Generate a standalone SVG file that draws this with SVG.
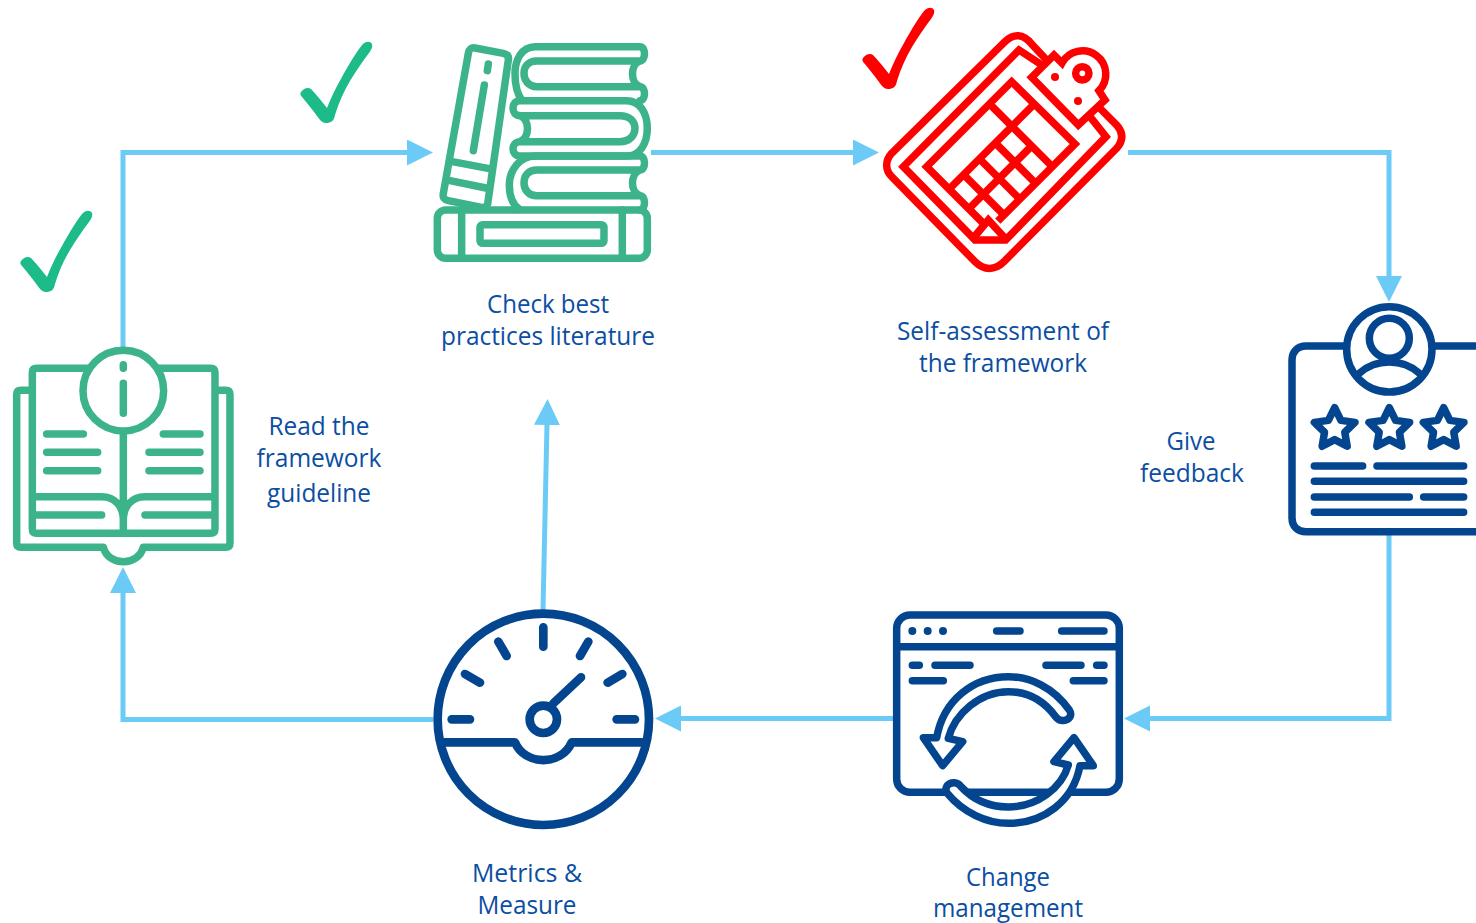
<svg xmlns="http://www.w3.org/2000/svg" xmlns:xlink="http://www.w3.org/1999/xlink" width="1476" height="923" viewBox="0 0 1476 923">
<style>
.icon{fill:none;stroke-width:22.500;stroke-linecap:round;stroke-linejoin:round}
.green{stroke:#3DB38A}.red{stroke:#FF0000}.navy{stroke:#03468F}
.conn{fill:none;stroke:#6CCBF6;stroke-width:5}
.label{font-family:"Open Sans","Liberation Sans",sans-serif;font-size:25px;fill:#0B4EA2;text-anchor:middle}
</style>
<defs>
<marker id="head" markerUnits="userSpaceOnUse" markerWidth="28" markerHeight="28" refX="1" refY="13" orient="auto"><path d="M0 0L26 13L0 26Z" fill="#6CCBF6"/></marker>
<path id="check" d="M3 57C6 53 10 52 13 54C19 60 24 67 29 73C33 63 38 52 44 42C50 31 57 19 64 10C68 6 72 6 74 9C75 12 73 15 71 18C65 26 58 36 52 46C46 56 41 67 37 80C36 86 33 88 28 88C24 88 22 85 19 81C14 74 8 67 4 62C2 60 2 58 3 57Z"/>
<path id="star" d="M0 -64L18.800 -25.900L60.900 -19.800L30.400 9.900L37.600 51.800L0 32L-37.600 51.800L-30.400 9.900L-60.900 -19.800L-18.800 -25.900Z"/>
</defs>
<g id="connectors">
<path class="conn" marker-end="url(#head)" d="M123 347V152.500H408"/>
<path class="conn" marker-end="url(#head)" d="M651 152.500H854"/>
<path class="conn" marker-end="url(#head)" d="M1128 152.500H1389V277"/>
<path class="conn" marker-end="url(#head)" d="M1389 535V718.500H1149"/>
<path class="conn" marker-end="url(#head)" d="M893 718.500H680"/>
<path class="conn" marker-end="url(#head)" d="M433 719.500H123V592"/>
<path class="conn" marker-end="url(#head)" d="M543 610L547 424"/>
</g>
<g id="node-guideline">
<g class="icon green" transform="translate(0 330) scale(.3333)">
<path d="M262 115H110Q97 115 97 128V597Q97 610 110 610H632Q645 610 645 597V128Q645 115 632 115H478M97 500H305C345 500 370 530 370 570M645 500H435C395 500 370 530 370 570M370 312V610M97 555H305M645 555H435"/>
<path d="M87 181H63Q50 181 50 194V639Q50 652 63 652H310C325 710 415 710 430 652H677Q690 652 690 639V194Q690 181 677 181H655"/>
<circle cx="370" cy="182" r="121"/>
<path d="M370 104V115M370 160V250M140 312H250M140 367H293M140 422H293M490 312H600M447 367H600M447 422H600"/>
</g>
<text class="label" x="319" y="435" textLength="101" lengthAdjust="spacingAndGlyphs">Read the</text>
<text class="label" x="319" y="467" textLength="125" lengthAdjust="spacingAndGlyphs">framework</text>
<text class="label" x="319" y="502" textLength="104" lengthAdjust="spacingAndGlyphs">guideline</text>
</g>
<g id="node-literature">
<g class="icon green" transform="translate(420 30) scale(.3333)">
<path d="M165 54L250 70Q268 74 265 90L203 522Q198 535 185 532L85 512Q66 508 70 490L145 70Q148 51 165 54ZM205 102L202 122M193 165L160 362M97 395L208 416M90 452L198 474"/>
<path d="M660 50H345C305 50 285 90 285 130C285 160 290 190 305 210M660 50C678 50 678 93 660 93H350C325 93 312 110 312 130C312 150 325 170 350 170H660C678 170 678 212 660 212M660 93C630 103 630 160 660 170"/>
<path d="M300 212H620C660 212 682 250 682 295C682 340 660 378 620 378H300M300 212C272 212 272 257 300 257H600C630 257 645 275 645 295C645 315 630 335 600 335H300C272 335 272 378 300 378M300 257C330 270 330 320 300 335"/>
<path d="M660 378H345C300 378 268 420 268 465C268 500 280 525 298 538M660 378C678 378 678 420 660 420H350C325 420 312 438 312 458C312 478 325 497 350 497H660C678 497 678 540 660 540M660 420C630 432 630 487 660 497"/>
<rect x="52" y="540" width="630" height="145" rx="25"/>
<path d="M125 540V685M607 540V685"/>
<rect x="180" y="584" width="372" height="56" rx="8"/>
</g>
<text class="label" x="548" y="313" textLength="122" lengthAdjust="spacingAndGlyphs">Check best</text>
<text class="label" x="548" y="345" textLength="214" lengthAdjust="spacingAndGlyphs">practices literature</text>
</g>
<g id="node-assessment">
<g class="icon red" style="stroke-linecap:butt;stroke-linejoin:miter" transform="translate(860 0) scale(.3333)">
<path d="M560 180L515 132C490 100 460 100 435 125L95 460C75 482 75 510 95 530L345 785C372 812 405 812 432 785L770 445C790 422 790 398 770 375L715 320"/>
<path d="M545 195L477 150L130 500L345 720H437L738 410L690 350"/>
<path d="M367.500 667.500L200 500L455 245L645 432L413.500 663.500"/>
<path d="M522.500 312.500L267.500 567.500M395 318L577 500M515 438L326.500 626.500"/>
<path d="M406 429L527 550M358.500 476.500L479.500 597.500M311 524L432 645"/>
<path d="M335 720L385 660L440 720"/>
<path style="fill:#fff" d="M515 232L582 165L606 189A70 70 0 1 1 717 272L735 300L655 375Z"/>
<circle cx="667" cy="220" r="20"/>
</g>
<circle cx="1055" cy="77" r="4" fill="#FF0000"/>
<circle cx="1078" cy="101" r="4" fill="#FF0000"/>
<text class="label" x="1003" y="340" textLength="212" lengthAdjust="spacingAndGlyphs">Self-assessment of</text>
<text class="label" x="1003" y="372" textLength="168" lengthAdjust="spacingAndGlyphs">the framework</text>
</g>
<g id="node-feedback">
<g class="icon navy" transform="translate(1276 295) scale(.3333)">
<path d="M205 153H90C65 153 48 170 48 195V668C48 695 65 710 90 710H640M478 153H640"/>
<circle cx="340" cy="163" r="128"/>
<circle cx="340" cy="130" r="60"/>
<path d="M250 235C300 190 380 190 430 235"/>
<use xlink:href="#star" href="#star" x="176" y="402"/>
<use xlink:href="#star" href="#star" x="340" y="402"/>
<use xlink:href="#star" href="#star" x="503" y="402"/>
<path d="M115 513H260M303 513H563M115 559H563M115 606H400M443 606H563M115 652H563"/>
</g>
<text class="label" x="1191" y="450" textLength="49" lengthAdjust="spacingAndGlyphs">Give</text>
<text class="label" x="1192" y="482" textLength="104" lengthAdjust="spacingAndGlyphs">feedback</text>
</g>
<g id="node-change">
<g class="icon navy" transform="translate(880 600) scale(.3333)">
<rect x="50" y="45" width="668" height="532" rx="40"/>
<path d="M50 140H718M350 93H420M545 93H672M97 196H118M165 196H270M498 196H603M650 196H672M97 242H190M580 242H672"/>
<circle cx="97" cy="93" r="12" fill="#03468F" stroke="none"/><circle cx="143" cy="93" r="12" fill="#03468F" stroke="none"/><circle cx="189" cy="93" r="12" fill="#03468F" stroke="none"/>
<g id="arrow-pair" style="fill:#fff">
<path d="M568 330C520 262 450 230 385 230C280 230 190 300 170 413H130L188 497L248 425L205 415C225 340 300 275 385 275C440 275 490 300 527 350C545 375 585 355 568 330Z"/>
<path transform="rotate(180 385 455)" d="M568 330C520 272 450 240 385 240C280 240 190 305 170 413H130L188 497L248 425L205 415C225 345 300 289 385 289C440 289 490 310 527 350C545 375 585 355 568 330Z"/>
</g>
</g>
<text class="label" x="1008" y="886" textLength="84" lengthAdjust="spacingAndGlyphs">Change</text>
<text class="label" x="1008" y="917" textLength="150" lengthAdjust="spacingAndGlyphs">management</text>
</g>
<g id="node-metrics">
<g class="icon navy" style="stroke-width:26" transform="translate(425 600) scale(.3333)">
<circle cx="355" cy="358" r="317"/>
<circle cx="355" cy="358" r="41"/>
<path d="M355 82V140M220 125L245 168M120 222L165 248M80 358H135M575 358H630M548 248L592 222M465 168L490 125M385 310L468 232"/>
<path d="M50 427H270C300 498 410 498 440 427H660"/>
</g>
<text class="label" x="527" y="882" textLength="110" lengthAdjust="spacingAndGlyphs">Metrics &amp;</text>
<text class="label" x="527" y="914" textLength="99" lengthAdjust="spacingAndGlyphs">Measure</text>
</g>
<g id="checks">
<use href="#check" xlink:href="#check" x="18" y="204" fill="#1DBB8A"/>
<use href="#check" xlink:href="#check" x="298" y="35" fill="#1DBB8A"/>
<use href="#check" xlink:href="#check" x="860" y="1" fill="#FF0000"/>
</g>
</svg>
